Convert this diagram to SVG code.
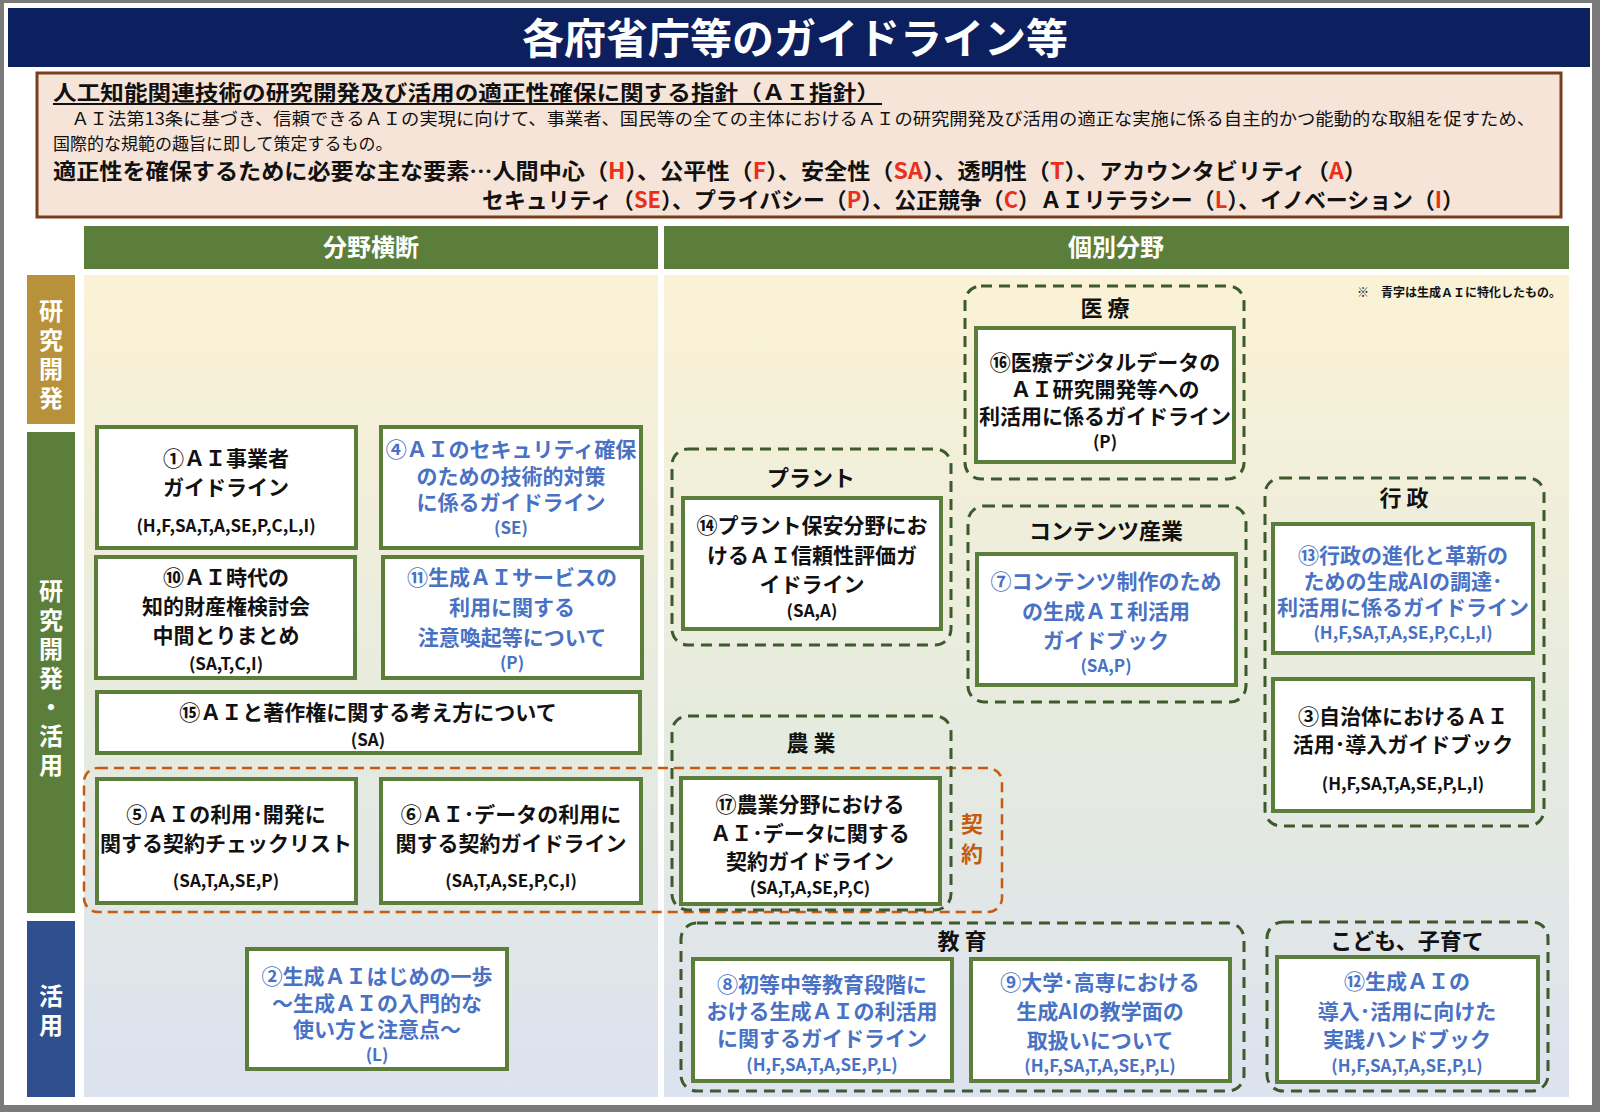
<svg xmlns="http://www.w3.org/2000/svg" width="1600" height="1112" viewBox="0 0 1600 1112">
<defs>
<linearGradient id="bg" x1="0" y1="0" x2="0" y2="1">
<stop offset="0" stop-color="#fbf2d6"/><stop offset="0.55" stop-color="#e6ebdf"/><stop offset="1" stop-color="#dce2ef"/>
</linearGradient>
<style>
text{font-family:"Noto Sans CJK JP","Noto Sans",sans-serif;font-weight:bold}
.n{fill:#fff;stroke:#5b7f3a;stroke-width:4}
.d{fill:none;stroke:#3d5a2c;stroke-width:3;stroke-dasharray:11 7}
.t{font-size:21px;text-anchor:middle;fill:#111}
.b{font-size:21px;text-anchor:middle;fill:#4a72c4}
.c{font-size:17px;text-anchor:middle;fill:#111}
.cb{font-size:17px;text-anchor:middle;fill:#4a72c4}
.g{font-size:22px;text-anchor:middle;fill:#111}
.v{font-size:24px;text-anchor:middle;fill:#fff;writing-mode:vertical-rl;letter-spacing:5px}
.r{fill:#e8301c}
</style>
</defs>
<rect width="1600" height="1112" fill="#7a7a7a"/>
<rect x="4" y="3" width="1588" height="1102" fill="#fff"/>
<rect x="8" y="8" width="1582" height="59" fill="#0c2060"/>
<text x="795" y="54" font-size="42" text-anchor="middle" fill="#fff">各府省庁等のガイドライン等</text>
<g id="header">
<rect x="37" y="73" width="1524" height="144" fill="#f6e4d9" stroke="#7a3e1c" stroke-width="3"/>
<text x="53" y="100" font-size="21" fill="#111" textLength="827" lengthAdjust="spacingAndGlyphs">人工知能関連技術の研究開発及び活用の適正性確保に関する指針（ＡＩ指針）</text>
<line x1="53" y1="104" x2="882" y2="104" stroke="#111" stroke-width="2"/>
<text x="53" y="125" font-size="17" fill="#111" style="font-weight:normal" textLength="1482" lengthAdjust="spacingAndGlyphs">　ＡＩ法第13条に基づき、信頼できるＡＩの実現に向けて、事業者、国民等の全ての主体におけるＡＩの研究開発及び活用の適正な実施に係る自主的かつ能動的な取組を促すため、</text>
<text x="53" y="150" font-size="17" fill="#111" style="font-weight:normal">国際的な規範の趣旨に即して策定するもの。</text>
<text x="53" y="179" font-size="22" fill="#111" textLength="1314" lengthAdjust="spacingAndGlyphs">適正性を確保するために必要な主な要素…人間中心（<tspan class="r">H</tspan>）、公平性（<tspan class="r">F</tspan>）、安全性（<tspan class="r">SA</tspan>）、透明性（<tspan class="r">T</tspan>）、アカウンタビリティ（<tspan class="r">A</tspan>）</text>
<text x="482" y="208" font-size="22" fill="#111" textLength="982" lengthAdjust="spacingAndGlyphs">セキュリティ（<tspan class="r">SE</tspan>）、プライバシー（<tspan class="r">P</tspan>）、公正競争（<tspan class="r">C</tspan>）ＡＩリテラシー（<tspan class="r">L</tspan>）、イノベーション（<tspan class="r">I</tspan>）</text>
</g>
<g id="columns">
<rect x="84" y="226" width="574" height="43" fill="#5b7f3a"/>
<text x="371" y="256" font-size="24" text-anchor="middle" fill="#fff">分野横断</text>
<rect x="664" y="226" width="905" height="43" fill="#5b7f3a"/>
<text x="1116" y="256" font-size="24" text-anchor="middle" fill="#fff">個別分野</text>
<rect x="84" y="275" width="574" height="822" fill="url(#bg)"/>
<rect x="664" y="275" width="905" height="822" fill="url(#bg)"/>
<text x="1561" y="297" font-size="12" text-anchor="end" fill="#111">※　青字は生成ＡＩに特化したもの。</text>
</g>
<g id="rows">
<rect x="27" y="275" width="48" height="149" fill="#b8923a"/>
<text class="v" x="51" y="357">研究開発</text>
<rect x="27" y="432" width="48" height="481" fill="#5b7f3a"/>
<text class="v" x="51" y="680">研究開発・活用</text>
<rect x="27" y="921" width="48" height="176" fill="#2f4f8f"/>
<text class="v" x="51" y="1013">活用</text>
</g>
<g id="groups">
<rect x="84" y="768" width="918" height="144" rx="14" fill="none" stroke="#c55a11" stroke-width="2.5" stroke-dasharray="10 6"/>
<text x="972" y="832" font-size="22" text-anchor="middle" fill="#c55a11">契</text>
<text x="972" y="862" font-size="22" text-anchor="middle" fill="#c55a11">約</text>
<rect class="d" x="965" y="286" width="279" height="193" rx="16"/><text class="g" x="1105" y="316">医 療</text>
<rect class="d" x="672" y="449" width="279" height="196" rx="16"/><text class="g" x="811" y="486">プラント</text>
<rect class="d" x="968" y="506" width="278" height="196" rx="16"/><text class="g" x="1106" y="539">コンテンツ産業</text>
<rect class="d" x="1265" y="478" width="279" height="348" rx="16"/><text class="g" x="1404" y="506">行 政</text>
<rect class="d" x="672" y="716" width="279" height="194" rx="16"/><text class="g" x="811" y="751">農 業</text>
<rect class="d" x="681" y="923" width="563" height="168" rx="16"/><text class="g" x="962" y="949">教 育</text>
<rect class="d" x="1267" y="922" width="281" height="169" rx="16"/><text class="g" x="1407" y="949">こども、子育て</text>
</g>
<g id="connectors"></g>
<g id="n1"><rect class="n" x="97" y="427" width="259" height="121"/><text class="t" x="226" y="466">①ＡＩ事業者</text><text class="t" x="226" y="495">ガイドライン</text><text class="c" x="226" y="532">(H,F,SA,T,A,SE,P,C,L,I)</text></g>
<g id="n4"><rect class="n" x="381" y="427" width="260" height="121"/><text class="b" x="511" y="457" font-size="20">④ＡＩのセキュリティ確保</text><text class="b" x="511" y="484">のための技術的対策</text><text class="b" x="511" y="510">に係るガイドライン</text><text class="cb" x="511" y="534">(SE)</text></g>
<g id="n10"><rect class="n" x="96" y="557" width="259" height="121"/><text class="t" x="226" y="585">⑩ＡＩ時代の</text><text class="t" x="226" y="614">知的財産権検討会</text><text class="t" x="226" y="643">中間とりまとめ</text><text class="c" x="226" y="670">(SA,T,C,I)</text></g>
<g id="n11"><rect class="n" x="383" y="557" width="259" height="121"/><text class="b" x="512" y="585">⑪生成ＡＩサービスの</text><text class="b" x="512" y="615">利用に関する</text><text class="b" x="512" y="645">注意喚起等について</text><text class="cb" x="512" y="669">(P)</text></g>
<g id="n15"><rect class="n" x="97" y="692" width="543" height="61"/><text class="t" x="368" y="720">⑮ＡＩと著作権に関する考え方について</text><text class="c" x="368" y="746">(SA)</text></g>
<g id="n5"><rect class="n" x="97" y="779" width="259" height="124"/><text class="t" x="226" y="822">⑤ＡＩの利用･開発に</text><text class="t" x="226" y="851" font-size="20">関する契約チェックリスト</text><text class="c" x="226" y="887">(SA,T,A,SE,P)</text></g>
<g id="n6"><rect class="n" x="381" y="779" width="260" height="124"/><text class="t" x="511" y="822">⑥ＡＩ･データの利用に</text><text class="t" x="511" y="851">関する契約ガイドライン</text><text class="c" x="511" y="887">(SA,T,A,SE,P,C,I)</text></g>
<g id="n2"><rect class="n" x="247" y="949" width="260" height="120"/><text class="b" x="377" y="984">②生成ＡＩはじめの一歩</text><text class="b" x="377" y="1011">～生成ＡＩの入門的な</text><text class="b" x="377" y="1037">使い方と注意点～</text><text class="cb" x="377" y="1061">(L)</text></g>
<g id="n16"><rect class="n" x="976" y="328" width="258" height="134"/><text class="t" x="1105" y="370">⑯医療デジタルデータの</text><text class="t" x="1105" y="397">ＡＩ研究開発等への</text><text class="t" x="1105" y="424" font-size="20">利活用に係るガイドライン</text><text class="c" x="1105" y="448">(P)</text></g>
<g id="n14"><rect class="n" x="683" y="498" width="258" height="131"/><text class="t" x="812" y="533">⑭プラント保安分野にお</text><text class="t" x="812" y="563">けるＡＩ信頼性評価ガ</text><text class="t" x="812" y="592">イドライン</text><text class="c" x="812" y="617">(SA,A)</text></g>
<g id="n7"><rect class="n" x="977" y="554" width="259" height="131"/><text class="b" x="1106" y="589">⑦コンテンツ制作のため</text><text class="b" x="1106" y="619">の生成ＡＩ利活用</text><text class="b" x="1106" y="648">ガイドブック</text><text class="cb" x="1106" y="672">(SA,P)</text></g>
<g id="n13"><rect class="n" x="1273" y="524" width="260" height="129"/><text class="b" x="1403" y="563" font-size="20">⑬行政の進化と革新の</text><text class="b" x="1403" y="589" font-size="20">ための生成AIの調達･</text><text class="b" x="1403" y="615" font-size="19">利活用に係るガイドライン</text><text class="cb" x="1403" y="639" font-size="16">(H,F,SA,T,A,SE,P,C,L,I)</text></g>
<g id="n3"><rect class="n" x="1273" y="679" width="260" height="132"/><text class="t" x="1403" y="724">③自治体におけるＡＩ</text><text class="t" x="1403" y="752">活用･導入ガイドブック</text><text class="c" x="1403" y="790">(H,F,SA,T,A,SE,P,L,I)</text></g>
<g id="n17"><rect class="n" x="681" y="778" width="259" height="126"/><text class="t" x="810" y="812">⑰農業分野における</text><text class="t" x="810" y="841">ＡＩ･データに関する</text><text class="t" x="810" y="869">契約ガイドライン</text><text class="c" x="810" y="894">(SA,T,A,SE,P,C)</text></g>
<g id="n8"><rect class="n" x="693" y="959" width="259" height="122"/><text class="b" x="822" y="992" font-size="20">⑧初等中等教育段階に</text><text class="b" x="822" y="1019" font-size="20">おける生成ＡＩの利活用</text><text class="b" x="822" y="1046" font-size="20">に関するガイドライン</text><text class="cb" x="822" y="1071" font-size="16">(H,F,SA,T,A,SE,P,L)</text></g>
<g id="n9"><rect class="n" x="971" y="959" width="259" height="122"/><text class="b" x="1100" y="990">⑨大学･高専における</text><text class="b" x="1100" y="1019">生成AIの教学面の</text><text class="b" x="1100" y="1048">取扱いについて</text><text class="cb" x="1100" y="1072" font-size="16">(H,F,SA,T,A,SE,P,L)</text></g>
<g id="n12"><rect class="n" x="1277" y="957" width="261" height="125"/><text class="b" x="1407" y="989">⑫生成ＡＩの</text><text class="b" x="1407" y="1019">導入･活用に向けた</text><text class="b" x="1407" y="1047">実践ハンドブック</text><text class="cb" x="1407" y="1072" font-size="16">(H,F,SA,T,A,SE,P,L)</text></g>
</svg>
